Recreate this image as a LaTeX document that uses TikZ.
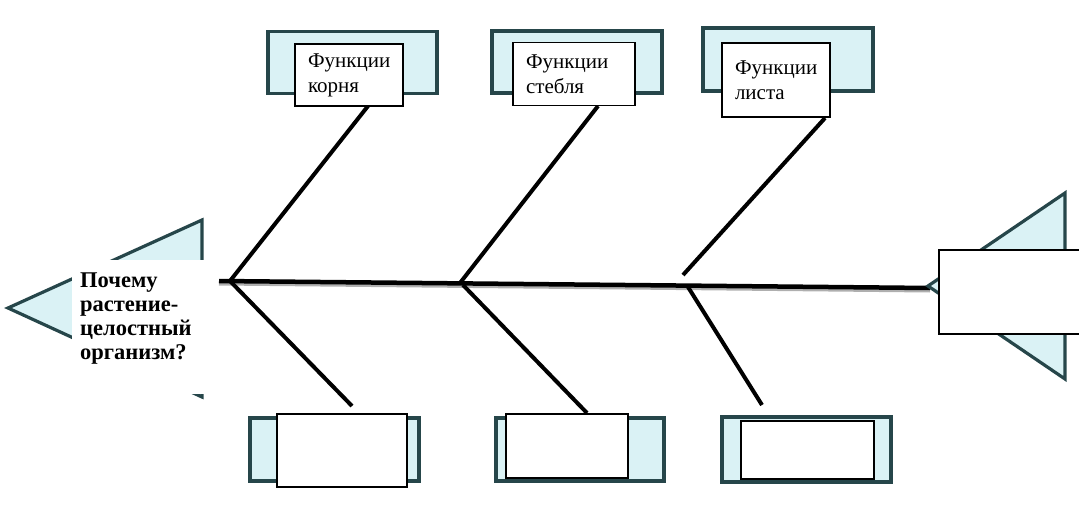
\documentclass[tikz,border=0pt]{standalone}
\usepackage{fontspec}
\setmainfont{Liberation Serif}
\usetikzlibrary{calc}
\definecolor{fishline}{RGB}{38,70,74}
\definecolor{fishfill}{RGB}{218,242,245}
\definecolor{shadowgray}{RGB}{175,175,175}

\begin{document}
\begin{tikzpicture}[x=1pt,y=-1pt,
  back/.style={draw=fishline,fill=fishfill,line width=3.8pt,minimum width=169pt,
    minimum height=62pt,inner sep=0pt},
  card/.style={draw=black,fill=white,line width=1.5pt,inner xsep=13pt,inner ysep=0pt,
    align=left,font=\fontsize{21}{25}\selectfont},
  fin/.style={draw=fishline,fill=fishfill,line width=3.2pt,line join=miter},
  bone/.style={black,line width=4pt},
  spine/.style={black,line width=4.5pt}]
  \useasboundingbox (0,0) rectangle (1079,508);
  % head
  \filldraw[fin] (8,308) -- (202,220) -- (202,397) -- cycle;
  \node[fill=white,minimum width=146pt,minimum height=134pt] (head) at (145,327) {};
  \node[anchor=north west,align=left,inner sep=0pt,
    font=\fontsize{22.5}{23.7}\selectfont\bfseries] (question) at (80,273)
    {Почему\\растение-\\целостный\\организм?};
  % spine
  \coordinate (neck) at (219,281);
  \coordinate (tailtip) at (930,288);
  \coordinate (j1) at (230,281);
  \coordinate (j2) at (460,283);
  \coordinate (j3) at (686,285);
  \draw[shadowgray,line width=3pt,transform canvas={yshift=-3pt}] (neck) -- (tailtip);
  \draw[spine] (neck) -- (tailtip);
  % bones
  \coordinate (rootup) at (368,106);
  \coordinate (stemup) at (598,106);
  \coordinate (leafup) at (825,118);
  \coordinate (leafstart) at (683,275);
  \coordinate (rootdown) at (352,406);
  \coordinate (stemdown) at (587,413);
  \coordinate (leafdown) at (762,405);
  \draw[bone] (j1) -- (rootup);
  \draw[bone] (j2) -- (stemup);
  \draw[bone] (leafstart) -- (leafup);
  \draw[bone] (j1) -- (rootdown);
  \draw[bone] ($(j2)+(3,2)$) -- (stemdown);
  \draw[bone] ($(j3)+(2,2)$) -- (leafdown);
  % upper boxes
  \node[back] (rootback) at (352.5,62.5) {};
  \node[card,text width=82pt,minimum height=62pt] (rootbox) at (349,75) {Функции\\корня};
  \node[back,minimum width=170pt] (stemback) at (577,62) {};
  \node[card,text width=96pt,minimum height=63pt] (stembox) at (574,74) {Функции\\стебля};
  \node[back,minimum width=170pt,minimum height=63pt] (leafback) at (788,59.5) {};
  \node[card,text width=82pt,minimum height=74pt] (leafbox) at (776,80) {Функции\\листа};
  % lower boxes
  \node[back,minimum height=63pt] (rootlowback) at (334.5,449.5) {};
  \node[card,minimum width=130pt,minimum height=73pt] (rootlow) at (342,450.5) {};
  \node[back,minimum width=168pt,minimum height=63pt] (stemlowback) at (580,449.5) {};
  \node[card,minimum width=122pt,minimum height=64pt] (stemlow) at (567,446) {};
  \node[back,minimum height=65pt] (leaflowback) at (806.5,449.5) {};
  \node[card,minimum width=133pt,minimum height=58pt] (leaflow) at (807.5,450) {};
  % tail
  \filldraw[fin] (928,286) -- (1065,193) -- (1065,379) -- cycle;
  \node[draw=black,fill=white,line width=1.5pt,minimum width=150pt,minimum height=84pt,
    anchor=north west] (tail) at (938,249) {};
\end{tikzpicture}
\end{document}
